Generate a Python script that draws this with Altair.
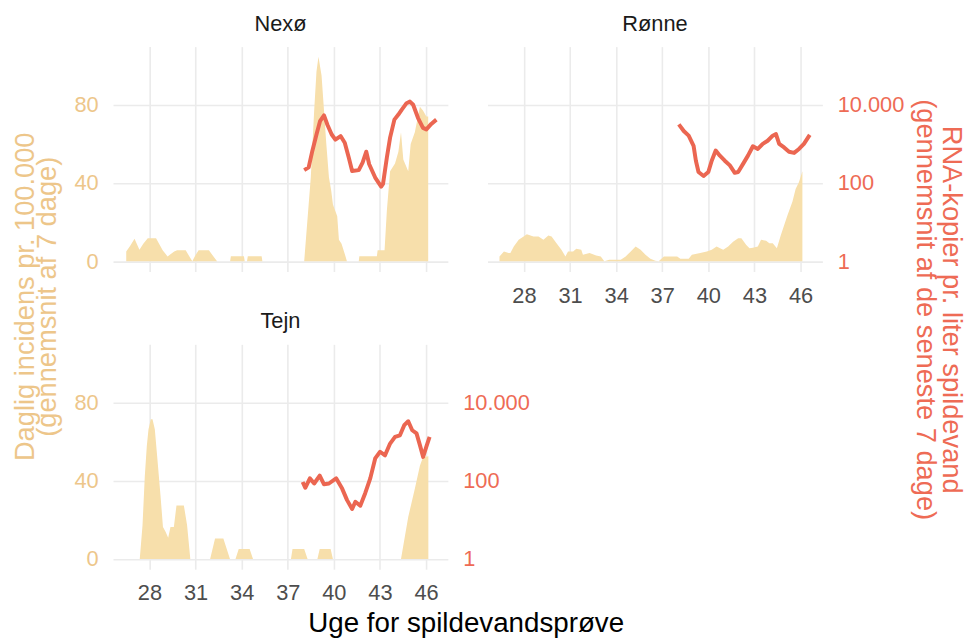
import altair as alt
import pandas as pd

FONT = "Liberation Sans"
FILL = "#F7DFAB"
INC_TEXT = "#EDC68A"
RNA_COL = "#EB6651"
RNA_TEXT = "#EE6B55"
GRID = "#EBEBEB"
TICK_TEXT = "#4D4D4D"

week_ticks = [28, 31, 34, 37, 40, 43, 46]
inc_ticks = [0, 40, 80]
rna_ticks = [1, 100, 10000]

# ---- Nexø ----
nexo_inc_week = [26.49, 26.75, 27.03, 27.35, 27.6, 27.89, 28.43, 28.86, 29.18, 29.61,
                 29.8, 30.36, 30.79, 30.95, 31.2, 31.87, 32.4, 33.25, 33.3, 34.15,
                 34.2, 34.35, 34.4, 35.3, 35.35, 38.07, 38.5, 38.72, 38.87, 39.0,
                 39.2, 39.36, 39.51, 39.68, 39.83, 39.94, 40.22, 40.33, 40.5, 40.76,
                 40.85, 41.62, 41.66, 42.8, 42.85, 43.3, 43.45, 43.66, 43.98, 44.2,
                 44.37, 44.52, 44.84, 45.0, 45.27, 45.6, 45.8, 46.02, 46.14]
nexo_inc_val = [5, 8, 11.5, 5.9, 9, 11.8, 11.8, 5.6, 2.5, 5,
                5.6, 5.6, 0, 2.5, 5.6, 5.6, 0, 0, 2.6, 2.6,
                0, 0, 2.6, 2.6, 0, 0, 43, 77, 97, 104.5,
                95, 77, 60, 43, 36, 29, 23, 11, 9, 2.5,
                0, 0, 2.6, 2.6, 5.6, 5.6, 26, 46, 50, 56,
                66, 52, 46, 60, 66, 79, 77, 74, 74]
nexo_rna_week = [38.07, 38.36, 38.6, 38.87, 39.1, 39.36, 39.58, 39.86, 40.1, 40.44,
                 40.71, 40.97, 41.19, 41.62, 41.87, 42.11, 42.3, 42.69, 43.08, 43.2,
                 43.45, 43.66, 43.94, 44.2, 44.41, 44.73, 44.95, 45.16, 45.48, 45.8,
                 46.02, 46.34, 46.67]
nexo_rna_val = [214, 251, 661, 1738, 3802, 5370, 3090, 1738, 1288, 1585,
                1072, 447, 204, 214, 331, 631, 302, 138, 81, 95,
                447, 1445, 4169, 5623, 7413, 10965, 12023, 10000, 4571, 2570,
                2344, 3236, 4169]

# ---- Rønne ----
ronne_inc_week = [26.41, 26.7, 27.0, 27.12, 27.34, 27.66, 27.98, 28.19, 28.62, 28.95,
                  29.27, 29.59, 29.8, 30.12, 30.44, 30.7, 30.87, 31.2, 31.41, 31.73,
                  31.84, 32.27, 32.7, 33.0, 33.23, 33.55, 34.3, 34.62, 34.95, 35.27,
                  35.59, 35.91, 36.23, 36.55, 36.77, 37.11, 37.97, 38.18, 38.72, 38.93,
                  39.47, 39.9, 40.22, 40.54, 40.76, 40.97, 41.29, 41.61, 41.94, 42.15,
                  42.47, 42.68, 42.9, 43.22, 43.43, 43.76, 43.97, 44.19, 44.46, 44.72,
                  45.15, 45.47, 45.68, 45.9, 46.12]
ronne_inc_val = [2.5, 5, 4.2, 4.2, 7.6, 11, 12.7, 13.8, 12.7, 12.7,
                 11, 13.2, 12.7, 9.3, 5.9, 2.5, 5, 5, 6.4, 5.9,
                 3.4, 4.2, 3, 2.5, 0, 0.8, 0.8, 2.5, 5, 7.6,
                 5.9, 3.4, 1.3, 0.3, 0, 2.5, 2.5, 1.3, 1.3, 3.4,
                 4.2, 5, 5.9, 7.6, 6.7, 5.9, 7.6, 10, 11.8, 11.8,
                 8.4, 6.7, 7, 7.6, 11, 10.5, 9.3, 9.3, 6.7, 13.5,
                 23.6, 30.4, 37, 40.5, 46]
ronne_rna_week = [38.08, 38.4, 38.72, 39.04, 39.19, 39.36, 39.69, 40.0, 40.22, 40.48,
                  40.75, 41.07, 41.4, 41.72, 41.94, 42.26, 42.58, 42.9, 43.22, 43.54,
                  43.86, 44.19, 44.4, 44.61, 44.93, 45.25, 45.58, 45.9, 46.22, 46.6]
ronne_rna_val = [3162, 2138, 1622, 891, 372, 191, 151, 191, 372, 676,
                 501, 372, 282, 182, 191, 309, 501, 871, 741, 1000,
                 1202, 1622, 1778, 1000, 813, 631, 589, 741, 1000, 1698]

# ---- Tejn ----
tejn_inc_week = [27.37, 27.55, 27.7, 27.83, 27.94, 28.09, 28.2, 28.35, 28.5, 28.72,
                 28.88, 29.05, 29.22, 29.37, 29.59, 29.76, 30.24, 30.45, 30.66, 31.95,
                 32.27, 32.81, 33.24, 33.6, 33.81, 34.52, 34.74, 37.21, 37.31, 38.07,
                 38.29, 38.93, 39.08, 39.79, 39.94, 44.37, 44.84, 45.27, 45.6, 45.8,
                 46.15]
tejn_inc_val = [0, 17.3, 42.6, 57.9, 66.3, 71.4, 71.4, 66.3, 52.8, 32.5,
                16.4, 13.9, 10.9, 16.4, 16.4, 27.4, 27.4, 17.3, 0, 0,
                10.5, 10.5, 0, 0, 5.1, 5.1, 0, 0, 5.1, 5.1,
                0, 0, 5.1, 5.1, 0, 0, 21.5, 35.9, 47.7, 52,
                52.5]
tejn_rna_week = [37.97, 38.14, 38.44, 38.72, 39.08, 39.36, 39.68, 40.15, 40.54, 40.86,
                 41.19, 41.4, 41.72, 42.04, 42.37, 42.69, 43.01, 43.33, 43.66, 43.98,
                 44.3, 44.58, 44.84, 45.1, 45.38, 45.6, 45.81, 46.02, 46.23]
tejn_rna_val = [93, 66, 115, 85, 135, 81, 85, 115, 63, 32,
                19, 29, 23, 48, 115, 372, 550, 447, 891, 1318,
                1445, 2630, 3311, 1950, 1622, 813, 407, 741, 1318]

X_DOMAIN = [25.63, 47.42]
INC_DOMAIN = [-5.2, 109.7]
RNA_DOMAIN = [10 ** (-5.2 / 20), 10 ** (109.7 / 20)]

PANEL_W = 338
PANEL_H = 227


def panel(name, inc_w, inc_v, rna_w, rna_v, left_labels, right_axis, x_labels,
          left_title=False, right_title=False, x_title=False):
    inc = pd.DataFrame({"uge": inc_w, "inc": inc_v})
    rna = pd.DataFrame({"uge": rna_w, "rna": rna_v})

    xkw = dict(values=week_ticks, labels=x_labels, ticks=False, domain=False,
               grid=True, gridColor=GRID, gridWidth=1.6,
               labelFont=FONT, labelFontSize=22, labelColor=TICK_TEXT,
               labelPadding=14, title="")
    if x_title:
        xkw.update(title="Uge for spildevandsprøve", titleFont=FONT, titleFontSize=28,
                   titleFontWeight="normal", titleColor="#000000",
                   titleX=356, titleY=55, titleAlign="center", titleBaseline="middle",
                   titleAngle=0)
    xaxis = alt.Axis(**xkw)
    xenc = alt.X("uge:Q", scale=alt.Scale(domain=X_DOMAIN, nice=False, zero=False),
                 axis=xaxis)

    ykw = dict(values=inc_ticks, labels=left_labels, ticks=False, domain=False,
               grid=True, gridColor=GRID, gridWidth=1.6,
               labelFont=FONT, labelFontSize=22, labelColor=INC_TEXT,
               labelPadding=15, title="")
    if left_title:
        ykw.update(title=["Daglig incidens pr. 100.000", "(gennemsnit af 7 dage)"],
                   titleFont=FONT, titleFontSize=27.5, titleFontWeight="normal",
                   titleColor=INC_TEXT, titleAngle=270, titleX=-88.5, titleY=252,
                   titleAlign="center", titleBaseline="middle", titleLineHeight=22)
    yaxis = alt.Axis(**ykw)

    area = alt.Chart(inc).mark_area(color=FILL, interpolate="linear").encode(
        x=xenc,
        y=alt.Y("inc:Q", scale=alt.Scale(domain=INC_DOMAIN, nice=False, zero=False),
                axis=yaxis),
        y2=alt.datum(0),
    )

    if right_axis:
        rkw = dict(orient="right", values=rna_ticks, ticks=False, domain=False,
                   grid=False, labelFont=FONT, labelFontSize=22, labelColor=RNA_TEXT,
                   labelPadding=15, title="",
                   labelExpr="replace(format(datum.value, ',d'), ',', '.')")
        if right_title:
            rkw.update(title=["RNA-kopier pr. liter spildevand",
                              "(gennemsnit af de seneste 7 dage)"],
                       titleFont=FONT, titleFontSize=27.5, titleFontWeight="normal",
                       titleColor=RNA_TEXT, titleAngle=90, titleX=129, titleY=265,
                       titleAlign="center", titleBaseline="middle", titleLineHeight=26)
        raxis = alt.Axis(**rkw)
    else:
        raxis = None

    yr_kwargs = dict(scale=alt.Scale(type="log", domain=RNA_DOMAIN, nice=False))
    if raxis is None:
        yr = alt.Y("rna:Q", axis=None, **yr_kwargs)
    else:
        yr = alt.Y("rna:Q", axis=raxis, **yr_kwargs)

    line = alt.Chart(rna).mark_line(color=RNA_COL, strokeWidth=4,
                                    strokeJoin="round").encode(
        x=xenc,
        y=yr,
    )

    return alt.layer(area, line).resolve_scale(y="independent").properties(
        width=PANEL_W, height=PANEL_H,
        title=alt.TitleParams(text=name, font=FONT, fontSize=22, fontWeight="normal",
                              color="#1A1A1A", anchor="middle", frame="group",
                              offset=11),
    )


nexo = panel("Nexø", nexo_inc_week, nexo_inc_val, nexo_rna_week, nexo_rna_val,
             left_labels=True, right_axis=False, x_labels=False, left_title=True)
ronne = panel("Rønne", ronne_inc_week, ronne_inc_val, ronne_rna_week, ronne_rna_val,
              left_labels=False, right_axis=True, x_labels=True, right_title=True)
tejn = panel("Tejn", tejn_inc_week, tejn_inc_val, tejn_rna_week, tejn_rna_val,
             left_labels=True, right_axis=True, x_labels=True, x_title=True)

chart = alt.concat(
    nexo, ronne, tejn, columns=2, spacing={"row": 73.5, "column": 40}, bounds="flush"
).configure_view(stroke=None).properties(
    padding={"left": 3, "top": 2, "right": 4, "bottom": 2}, background="white"
)

chart.save("out.html", embed_options={"renderer": "svg", "actions": False})
